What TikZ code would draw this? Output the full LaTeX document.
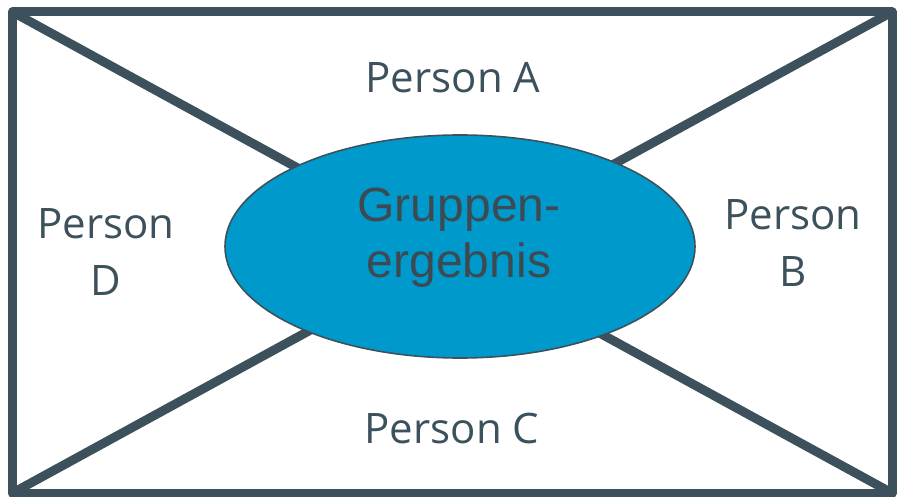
\documentclass[tikz,border=0pt]{standalone}
\usepackage{fontspec}
\setmainfont{Open Sans}
\newfontfamily\arialfont{Liberation Sans}
\usetikzlibrary{shapes.geometric}
\definecolor{frameslate}{HTML}{3C515C}
\definecolor{resultblue}{HTML}{0099CC}
\definecolor{resulttext}{HTML}{3E4A52}
\tikzset{
  frameline/.style={draw=frameslate, line width=9pt, line join=round},
  personlabel/.style={inner sep=0pt, text=frameslate, align=center,
    font=\fontsize{42}{57}\selectfont},
  resultbox/.style={ellipse, draw=frameslate, line width=1.6pt, fill=resultblue,
    minimum width=470pt, minimum height=223pt, inner sep=0pt},
  resultlabel/.style={inner sep=0pt, text=resulttext, align=center,
    font=\arialfont\fontsize{48}{55}\selectfont}
}
\begin{document}
\begin{tikzpicture}[x=1pt, y=-1pt]
  \useasboundingbox (0,0) rectangle (900,497);
  % frame corners
  \coordinate (tl) at (12.5,12);
  \coordinate (tr) at (892,12);
  \coordinate (br) at (892,493);
  \coordinate (bl) at (12.5,493);
  % outer frame and the two diagonals
  \draw[frameline] (tl) -- (tr) -- (br) -- (bl) -- cycle;
  \draw[frameline] (tl) -- (br);
  \draw[frameline] (tr) -- (bl);
  % group result in the middle
  \node[resultbox] (result) at (460,246.5) {};
  \node[resultlabel, anchor=base] (resulttxt) at (459,277) {Gruppen-\\ergebnis};
  % the four persons (base anchor = baseline of the last line)
  \node[personlabel, anchor=base] (pa) at (453,93) {Person A};
  \node[personlabel, anchor=base] (pc) at (452,443) {Person C};
  \node[personlabel, anchor=base] (pb) at (793,287) {Person\\B};
  \node[personlabel, anchor=base] (pd) at (106,295) {Person\\D};
\end{tikzpicture}
\end{document}
